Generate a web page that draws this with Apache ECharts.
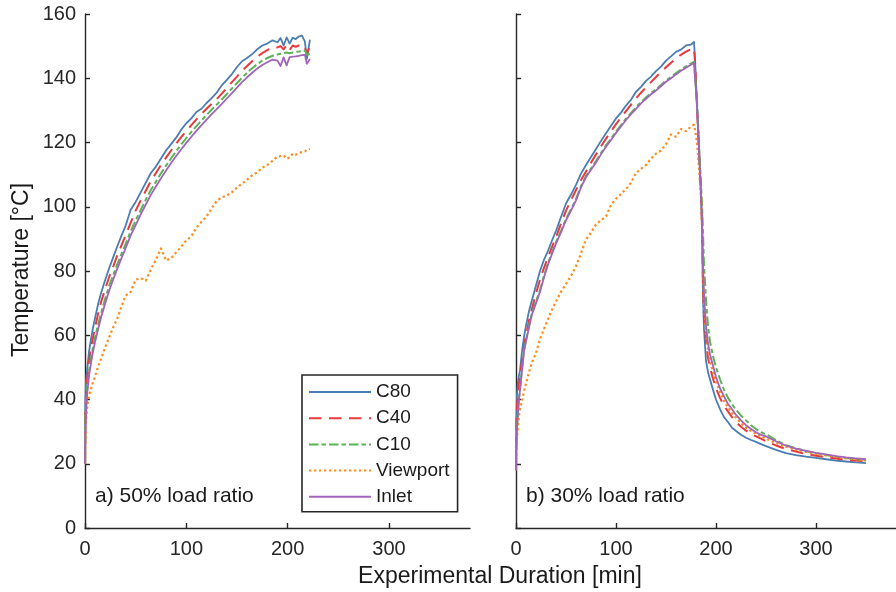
<!DOCTYPE html>
<html>
<head>
<meta charset="utf-8">
<script src="https://cdn.jsdelivr.net/npm/echarts@6/dist/echarts.min.js"></script>
<style>
html,body{margin:0;padding:0;background:#fff;}
#chart{width:896px;height:592px;}
</style>
</head>
<body>
<div id="chart"></div>
<script>
// ---- Data ----
var SERIES_NAMES = ['C80', 'C40', 'C10', 'Viewport', 'Inlet'];
var X_TICKS = [0, 100, 200, 300];
var Y_TICKS = [0, 20, 40, 60, 80, 100, 120, 140, 160];

// a) 50% load ratio: time [min]
var L_T = [0,0.3,1,2,3,4,6,8,10,13,16,20,24,28,32,36,40,
  45,50,55,60,65,70,75,80,85,90,95,100,105,110,115,120,125,130,135,140,145,150,155,160,165,170,175,180,185,190,
  193,196,199,202,205,208,211,214,217,219,222];
var L_C80 = [20,38,46,49,52,55,59,62.5,65.5,69.8,73.3,77.3,81,84.4,87.8,91,94,
  99,101.5,104.5,107.5,110.5,112.5,115,117.5,119.5,121.5,124,126,127.5,129.5,130.5,132.3,133.8,135.5,137.8,139.5,141.3,143.5,145.3,146.3,147.5,149,150.2,150.8,151.8,151.2,
  152.5,150.2,152.7,150.8,152.6,152.2,153,153.3,151.5,146,152];
var L_C40 = [20,34,42,46,49,52,56,59.5,62.5,66.8,70.5,74.5,78.3,81.5,85,88,91,
  95,98.8,102,105,108,110.5,113,115.3,117.5,119.7,121.7,123.6,125.4,127.2,128.9,130.5,132,133.5,135.2,137,138.8,140.5,142.3,143.8,145.3,146.7,147.8,148.8,149.5,149.6,
  150,149,150.3,148.8,150.2,149.8,150.2,150.5,149.5,147.5,150];
var L_C10 = [20,32,39,43,46,49,53,56.5,59.5,63.5,67,71.5,75.5,78.8,82.2,85.3,88.3,
  92.3,95.7,99,102.2,105.2,107.8,110.4,112.8,115.1,117.3,119.4,121.4,123.3,125.1,126.9,128.6,130.2,131.8,133.4,135.1,136.8,138.5,140.2,141.7,143.1,144.4,145.5,146.3,147,147.4,
  147.6,147.8,148,147.8,148,148.2,148.3,148.5,148.6,147.5,147.5];
var L_VIEW = [20,27,33,37,39.5,41,43.5,45.5,47.2,50.3,52.8,56.3,59.5,62.6,65.3,69,72.3,
  73.5,77.3,77.8,77,80.5,83.5,87,83.3,84,85.8,87.6,89.5,90.8,93.5,95.3,97,99.5,101.8,102.9,103.5,104.5,106,107.2,108.4,109.8,110.7,112.2,113,114.3,115.6,
  115.8,116,115,115.3,116.5,116.2,116.7,117,117.2,117.7,118];
var L_INLET = [20,29,36,41,44.5,47.5,51.5,55,58,62,65.7,70,74,77.5,80.8,84,87,
  91,94.3,97.6,100.7,103.7,106.3,108.9,111.3,113.6,115.8,117.9,119.9,121.8,123.6,125.4,127.1,128.8,130.4,132,133.7,135.4,137.1,138.8,140.3,141.7,143,144.1,145,145.8,145.5,
  143.8,146.5,144,146.6,146.7,146.8,147,147.2,147.3,144.5,146];

// b) 30% load ratio: time [min]
var R_T = [0,0.3,1,2,3,4,6,8,10,13,16,20,24,28,32,36,40,
  45,50,55,60,65,70,75,80,85,90,95,100,105,110,115,120,125,130,135,140,145,150,155,160,165,170,175,178,
  179,181,183,185,186,187,188,190,192,194,197,200,204,208,212,216,220,225,230,235,240,245,250,
  260,270,280,290,300,310,320,330,340,350];
var R_C80 = [18,33,42,45.5,47.5,49,55,59.5,63,67.5,71,75.5,80,83.5,86.3,89.5,92.5,
  96.8,101,103.8,106.8,110.3,113,115.5,118,120.5,122.9,125.2,127.5,129.3,131.5,133.3,135.8,137.3,139.2,140.5,142.2,143.6,145.5,146.8,148.2,148.9,150.2,150.5,151.3,
  146,132,118,104,93,72,62,52,48.5,46.3,43,40,37,34.5,33,31.2,30.2,29,28.1,27.4,26.8,26.1,25.5,
  24.3,23.3,22.7,22.2,21.8,21.4,21,20.7,20.4,20.2];
var R_C40 = [18,30,38,42,45,47,52,56.5,60,64.5,68.3,73,77.3,81,84.3,87.5,90.5,
  94.8,98.8,102,105.2,108.3,111,113.7,116.3,118.8,121.2,123.5,125.7,127.8,129.8,131.8,133.7,135.5,137.2,138.8,140.4,141.9,143.4,144.8,146.1,147.3,148.3,149,149.3,
  145.5,131.5,117.5,103.5,95,76,66,58,53,50,46.5,43.5,40.5,38,36.3,34.5,33,31.5,30.3,29.3,28.5,27.8,27,
  25.7,24.6,23.8,23,22.5,22,21.6,21.2,21,20.8];
var R_C10 = [18,25.5,31.5,36.5,40.5,43.5,49.5,55.5,58.5,63,67,70.5,74,78.5,82.5,85.8,89,
  92.5,96.2,99.2,102.4,106.4,109.6,111.9,114.2,116.7,119.1,121.2,123.4,125.4,127.4,129.2,130.9,132.6,134,135.4,136.6,137.9,139.3,140.4,141.6,142.7,143.7,144.6,145.1,
  145.3,133,120,107,101,92,82,71,63,58,53.5,50,46.3,43,40.5,38.5,36.8,35,33.5,32,30.8,29.8,29.2,
  27.3,25.8,24.8,24,23.3,22.7,22.2,21.8,21.4,21];
var R_VIEW = [18,25,28,32,35,37,39.5,42.5,45,48.5,51.5,54.5,58.8,62,65,68,70.5,
  73.5,76,78.5,81.5,85.5,89.8,92,94.5,95.8,97,100.5,102.5,104,105.5,107.5,110.5,111.8,113,115,116.5,117.5,119.5,122.5,121.8,124.2,123.5,125,125.5,
  124,120,112,103,94,80,70,61,55.5,52,48.5,45.5,42.5,39.5,37.5,35.8,34.3,32.7,31.3,30.2,29.3,28.5,27.8,
  26.4,25.3,24.4,23.7,23.1,22.6,22.1,21.7,21.4,21.1];
var R_INLET = [18,25,31,36,40,43,49,55,58,62.5,66.5,70,73.5,78,82,85.3,88.5,
  92,95.8,98.8,102,106,109.2,111.5,113.8,116.3,118.7,120.8,123,125,127,128.8,130.5,132.2,133.6,135,136.2,137.5,138.9,140,141.2,142.3,143.3,144.2,144.8,
  145,131.5,117.5,103.5,96,82,72,63,57.5,54,50.5,47,43.5,41,38.6,37,35.2,33.5,32,30.8,29.8,29,28.5,
  27,25.6,24.7,24,23.4,22.9,22.4,22,21.7,21.4];

// ---- Styles ----
var COLORS = ['#4a7db3', '#e8393d', '#5cb354', '#ff8c1a', '#a263bb'];
var DASHES = ['solid', [12.5, 7.5], [9.5, 3, 4.5, 3], [2.3, 2.7], 'solid'];
var WIDTHS = [1.8, 2, 2, 2.2, 1.8];
var FONT = 'Liberation Sans, Arial, Helvetica, sans-serif';
var AX = '#262626';

function pairs(t, v) { return t.map(function (x, i) { return [x, v[i]]; }); }

var leftData = [L_C80, L_C40, L_C10, L_VIEW, L_INLET];
var rightData = [R_C80, R_C40, R_C10, R_VIEW, R_INLET];

var series = [];
[[L_T, leftData, 0], [R_T, rightData, 1]].forEach(function (p) {
  p[1].forEach(function (vals, k) {
    series.push({
      name: SERIES_NAMES[k],
      type: 'line',
      xAxisIndex: p[2],
      yAxisIndex: p[2],
      data: pairs(p[0], vals),
      symbol: 'none',
      showSymbol: false,
      smooth: false,
      animation: false,
      color: COLORS[k],
      lineStyle: { color: COLORS[k], width: WIDTHS[k], type: DASHES[k], cap: 'butt', join: 'round' },
      z: 2 + k
    });
  });
});

function xAxis(i) {
  return {
    type: 'value', gridIndex: i, min: 0, max: 380,
    axisLine: { show: true, lineStyle: { color: AX, width: 1.4 } },
    axisTick: { show: true, inside: true, length: 5, lineStyle: { color: AX, width: 1.4 }, customValues: X_TICKS },
    axisLabel: { show: true, color: AX, fontSize: 20, fontFamily: FONT, margin: 11, customValues: X_TICKS },
    splitLine: { show: false }
  };
}
function yAxis(i) {
  return {
    type: 'value', gridIndex: i, min: 0, max: 160, interval: 20,
    axisLine: { show: true, onZero: false, lineStyle: { color: AX, width: 1.4 } },
    axisTick: { show: true, inside: true, length: 5, lineStyle: { color: AX, width: 1.4 }, customValues: Y_TICKS },
    axisLabel: { show: i === 0, color: AX, fontSize: 20, fontFamily: FONT, margin: 9, customValues: Y_TICKS },
    splitLine: { show: false }
  };
}

var chart = echarts.init(document.getElementById('chart'), null, { renderer: 'canvas' });
chart.setOption({
  animation: false,
  backgroundColor: '#ffffff',
  grid: [
    { left: 85, top: 14, width: 385, height: 514 },
    { left: 516, top: 14, width: 385, height: 514 }
  ],
  xAxis: [xAxis(0), xAxis(1)],
  yAxis: [yAxis(0), yAxis(1)],
  legend: {
    data: SERIES_NAMES,
    orient: 'vertical',
    left: 302, top: 375,
    padding: [7, 8, 5, 6],
    backgroundColor: '#ffffff',
    borderColor: AX, borderWidth: 1.6,
    itemWidth: 62, itemHeight: 20, itemGap: 6.2,
    selectedMode: false,
    itemStyle: { opacity: 0, borderWidth: 0 },
    textStyle: { fontSize: 19, fontFamily: FONT, color: '#1a1a1a', lineHeight: 20 }
  },
  graphic: [
    { type: 'text', left: 95, top: 486, style: { text: 'a) 50% load ratio', font: '21px ' + FONT, fill: '#1a1a1a' } },
    { type: 'text', left: 526, top: 486, style: { text: 'b) 30% load ratio', font: '21px ' + FONT, fill: '#1a1a1a' } },
    { type: 'text', x: 500, y: 577, style: { text: 'Experimental Duration [min]', font: '23px ' + FONT, fill: '#1a1a1a', align: 'center', verticalAlign: 'middle' } },
    { type: 'text', x: 22, y: 270, rotation: Math.PI / 2, style: { text: 'Temperature [°C]', font: '23px ' + FONT, fill: '#1a1a1a', align: 'center', verticalAlign: 'middle' } }
  ],
  series: series
});
</script>
</body>
</html>
